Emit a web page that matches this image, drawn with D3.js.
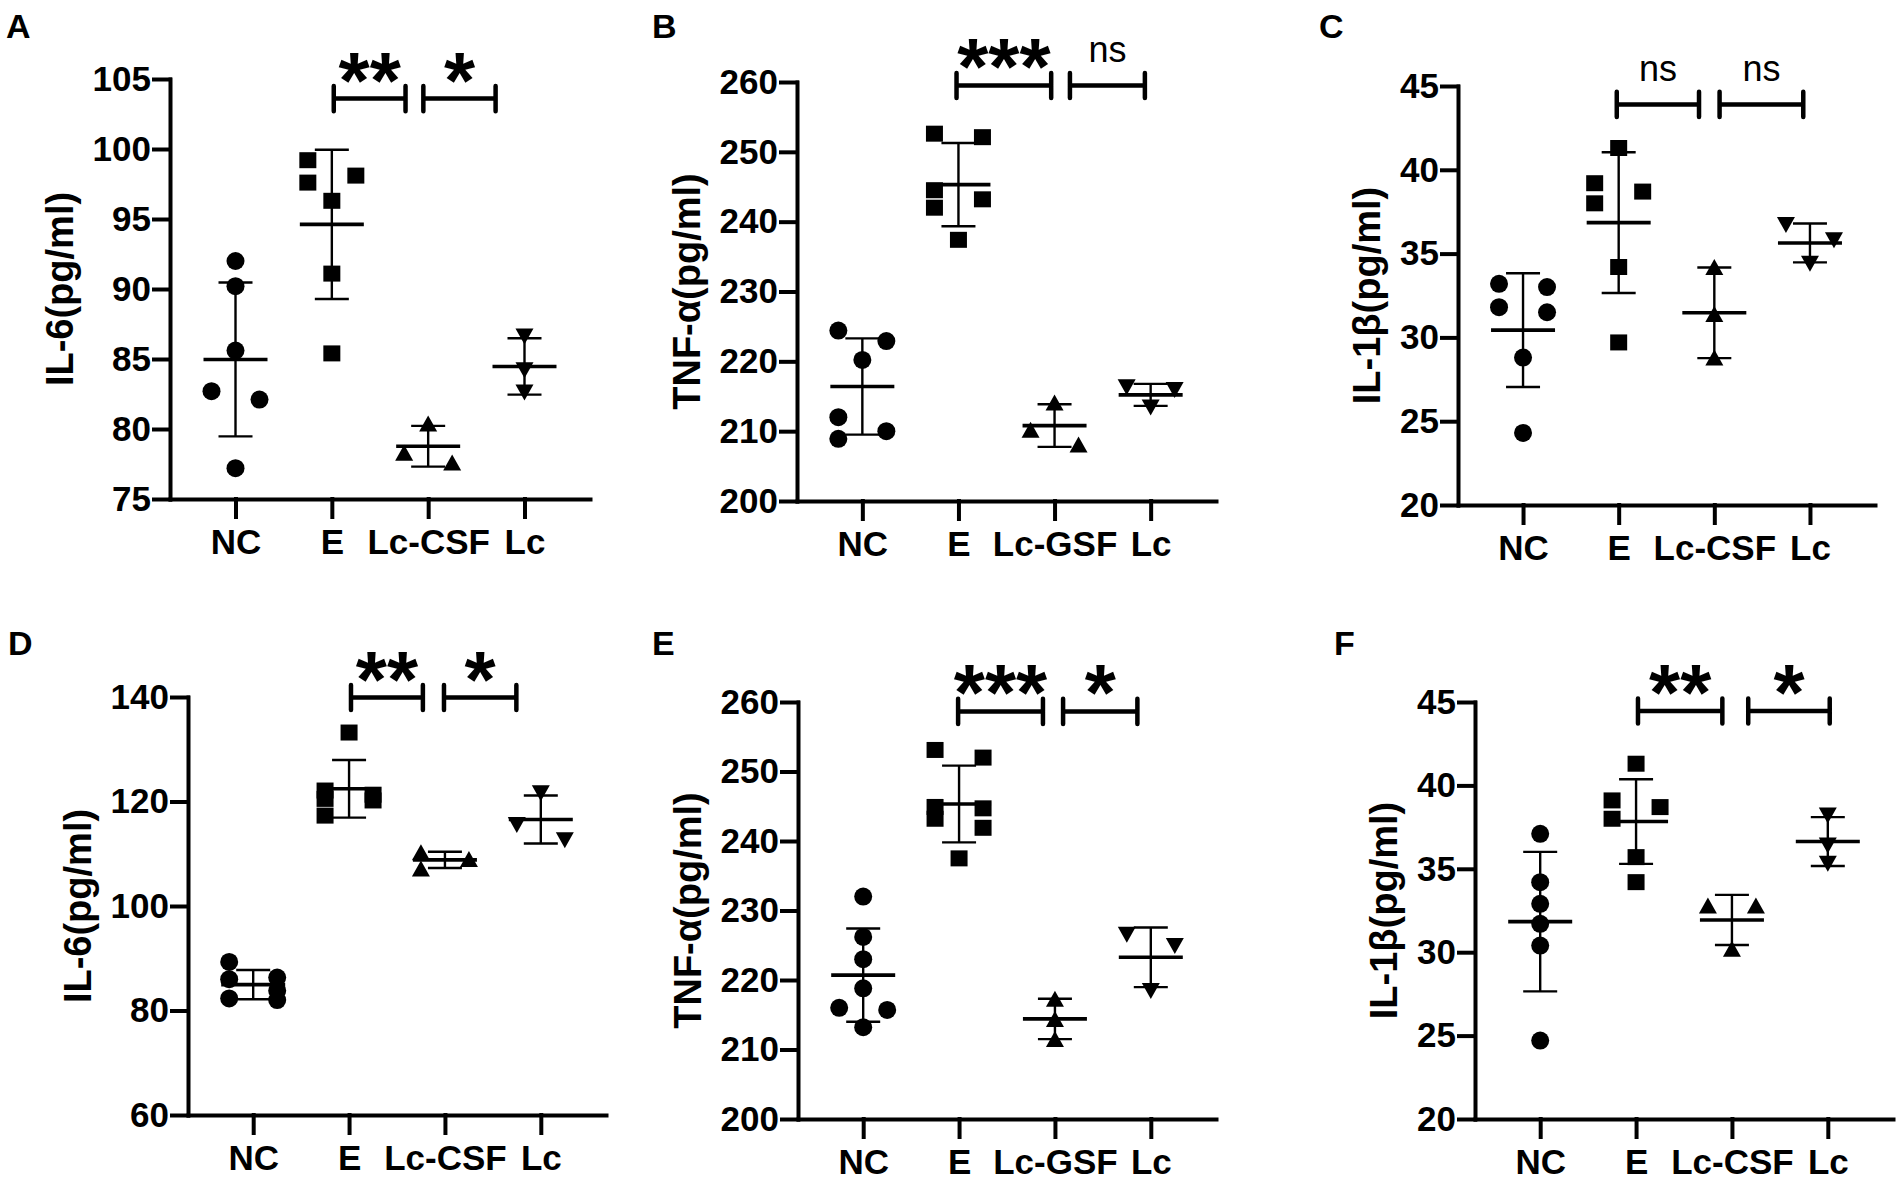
<!DOCTYPE html>
<html>
<head>
<meta charset="utf-8">
<script src="https://cdn.jsdelivr.net/npm/d3@7"></script>
<style>
  body { margin: 0; background: #fff; }
  text { font-family: "Liberation Sans", Arial, sans-serif; fill: #000; }
</style>
</head>
<body>
<div id="svg-container"></div>
<script>

// Group names on the x axis
const groupsCSF = ["NC", "E", "Lc-CSF", "Lc"];
const groupsGSF = ["NC", "E", "Lc-GSF", "Lc"];

// Individual values per group (NC, E, Lc-xSF, Lc)
const valuesA = [
    [92.0, 90.2, 85.6, 82.7, 82.1, 77.2],
    [99.2, 98.1, 97.6, 96.3, 91.1, 85.4],
    [80.4, 78.3, 77.6],
    [86.6, 84.2, 82.6]
];
const valuesB = [
    [224.4, 222.9, 220.2, 212.0, 210.0, 208.9],
    [252.6, 252.1, 244.5, 243.2, 242.0, 237.4],
    [214.1, 210.2, 208.1],
    [216.3, 215.9, 213.4]
];
const valuesC = [
    [33.2, 33.0, 31.8, 31.5, 28.8, 24.3],
    [41.3, 39.2, 38.7, 38.0, 34.2, 29.7],
    [34.2, 31.4, 28.8],
    [36.7, 35.8, 34.4]
];
const valuesD = [
    [89.3, 86.3, 86.0, 83.8, 82.3, 82.0],
    [133.2, 122.1, 121.3, 120.5, 120.2, 117.3],
    [110.3, 109.0, 107.2],
    [121.6, 115.5, 112.6]
];
const valuesE = [
    [232.0, 226.2, 223.0, 218.8, 216.0, 215.7, 213.2],
    [253.1, 252.0, 244.9, 244.7, 243.2, 241.9, 237.5],
    [217.3, 214.4, 211.5],
    [226.5, 224.9, 218.4]
];
const valuesF = [
    [37.1, 34.2, 32.9, 31.7, 30.4, 24.7],
    [41.3, 39.1, 38.7, 38.0, 35.7, 34.2],
    [32.8, 32.8, 30.2],
    [38.2, 36.4, 35.3]
];

// Y axis domains and tick steps
const domainIL6a = [75, 105], stepIL6a = 5;
const domainIL6b = [60, 140], stepIL6b = 20;
const domainTNF = [200, 260], stepTNF = 10;
const domainIL1 = [20, 45], stepIL1 = 5;

// Significance brackets: from/to in group index units, at = y value
const sigA = [{ text: "**", from: 1.02, to: 1.765, at: 103.6 }, { text: "*", from: 1.95, to: 2.70, at: 103.6 }];
const sigB = [{ text: "***", from: 0.98, to: 1.965, at: 259.5 }, { text: "ns", from: 2.16, to: 2.94, at: 259.5 }];
const sigC = [{ text: "ns", from: 0.98, to: 1.84, at: 43.9 }, { text: "ns", from: 2.055, to: 2.93, at: 43.9 }];
const sigD = [{ text: "**", from: 1.02, to: 1.77, at: 139.9 }, { text: "*", from: 1.99, to: 2.745, at: 139.9 }];
const sigE = [{ text: "***", from: 0.99, to: 1.875, at: 258.65 }, { text: "*", from: 2.085, to: 2.86, at: 258.65 }];
const sigF = [{ text: "**", from: 1.02, to: 1.90, at: 44.46 }, { text: "*", from: 2.17, to: 3.02, at: 44.46 }];

// Panel layout (axis frame in pixels) -- kept apart from the data
const panels = [
    { letter: "A", lx: 6, ly: 38, title: "IL-6(pg/ml)", groups: groupsCSF, values: valuesA,
      domain: domainIL6a, step: stepIL6a, sig: sigA, left: 170, right: 590, top: 79, bottom: 499 },
    { letter: "B", lx: 652, ly: 38, title: "TNF-\u03b1(pg/ml)", groups: groupsGSF, values: valuesB,
      domain: domainTNF, step: stepTNF, sig: sigB, left: 797, right: 1216, top: 82, bottom: 501 },
    { letter: "C", lx: 1319, ly: 38, title: "IL-1\u03b2(pg/ml)", groups: groupsCSF, values: valuesC,
      domain: domainIL1, step: stepIL1, sig: sigC, left: 1458, right: 1875, top: 86, bottom: 505 },
    { letter: "D", lx: 8, ly: 655, title: "IL-6(pg/ml)", groups: groupsCSF, values: valuesD,
      domain: domainIL6b, step: stepIL6b, sig: sigD, left: 188, right: 606, top: 697, bottom: 1115 },
    { letter: "E", lx: 652, ly: 655, title: "TNF-\u03b1(pg/ml)", groups: groupsGSF, values: valuesE,
      domain: domainTNF, step: stepTNF, sig: sigE, left: 798, right: 1216, top: 702, bottom: 1119 },
    { letter: "F", lx: 1334, ly: 655, title: "IL-1\u03b2(pg/ml)", groups: groupsCSF, values: valuesF,
      domain: domainIL1, step: stepIL1, sig: sigF, left: 1475, right: 1893, top: 702, bottom: 1119 }
];

const width = 1901, height = 1181;

const svg = d3.select("#svg-container").append("svg")
        .attr("width", width)
        .attr("height", height)
        .style("display", "block");

panels.forEach(draw_panel);

function draw_panel(p) {
    const g = svg.append("g");

    const x = d3.scalePoint(p.groups, [p.left, p.right]).padding(0.68);
    const xi = d3.scaleLinear([0, p.groups.length - 1],
                              [x(p.groups[0]), x(p.groups[p.groups.length - 1])]);
    const y = d3.scaleLinear(p.domain, [p.bottom, p.top]);

    // Panel letter
    g.append("text")
        .attr("x", p.lx).attr("y", p.ly)
        .attr("font-size", 34).attr("font-weight", "bold")
        .text(p.letter);

    // Y axis
    const yAxis = g.append("g")
        .attr("transform", `translate(${p.left},0)`)
        .call(d3.axisLeft(y)
              .tickValues(d3.range(p.domain[0], p.domain[1] + p.step / 2, p.step))
              .tickSize(16).tickSizeOuter(0).tickPadding(3));

    // X axis
    const xAxis = g.append("g")
        .attr("transform", `translate(0,${p.bottom})`)
        .call(d3.axisBottom(x).tickSize(18).tickSizeOuter(0).tickPadding(12));

    [yAxis, xAxis].forEach(function(a) {
        a.selectAll("path, line").attr("stroke", "#000").attr("stroke-width", 4)
            .attr("stroke-linecap", "square");
        a.selectAll("text").attr("font-size", 35).attr("font-weight", "bold")
            .attr("fill", "#000").attr("font-family", "Liberation Sans, Arial, sans-serif");
    });

    // Y axis title placed left of the tick labels
    const bb = yAxis.node().getBBox();
    g.append("text")
        .attr("transform", `translate(${p.left + bb.x - 20},${(p.top + p.bottom) / 2}) rotate(-90)`)
        .attr("text-anchor", "middle")
        .attr("font-size", 38).attr("font-weight", "bold")
        .text(p.title);

    // Points, mean and SD for every group
    p.values.forEach(function(vals, gi) {
        const cx = x(p.groups[gi]);
        const offs = dodge(vals, y, 17, 24);
        const m = d3.mean(vals), sd = d3.deviation(vals);

        g.append("g").selectAll("path")
            .data(vals)
            .join("path")
            .attr("transform", function(d, i) { return `translate(${cx + offs[i]},${y(d)})`; })
            .attr("d", marker_path(gi))
            .attr("fill", "#000");

        const bars = g.append("g").attr("stroke", "#000").attr("fill", "none");
        bars.append("line")
            .attr("x1", cx).attr("x2", cx)
            .attr("y1", y(m + sd)).attr("y2", y(m - sd))
            .attr("stroke-width", 2.4);
        [m + sd, m - sd].forEach(function(v) {
            bars.append("line")
                .attr("x1", cx - 17).attr("x2", cx + 17)
                .attr("y1", y(v)).attr("y2", y(v))
                .attr("stroke-width", 2.4);
        });
        bars.append("line")
            .attr("x1", cx - 32).attr("x2", cx + 32)
            .attr("y1", y(m)).attr("y2", y(m))
            .attr("stroke-width", 3.6);
    });

    // Significance brackets
    const sig = g.append("g").selectAll("g")
        .data(p.sig)
        .join("g");

    sig.append("path")
        .attr("fill", "none").attr("stroke", "#000")
        .attr("stroke-width", 4.5).attr("stroke-linecap", "round")
        .attr("d", function(d) {
            const x1 = xi(d.from), x2 = xi(d.to), yy = y(d.at);
            return `M${x1},${yy - 12.6}V${yy + 12.6}M${x1},${yy}H${x2}M${x2},${yy - 12.6}V${yy + 12.6}`;
        });

    sig.append("text")
        .attr("x", function(d) { return (xi(d.from) + xi(d.to)) / 2; })
        .attr("y", function(d) { return d.text === "ns" ? y(d.at) - 23 : y(d.at) + 9; })
        .attr("text-anchor", "middle")
        .attr("font-size", function(d) { return d.text === "ns" ? 36 : 80; })
        .attr("font-weight", function(d) { return d.text === "ns" ? "normal" : "bold"; })
        .text(function(d) { return d.text; });
}

// Spread points of similar value sideways, alternating left / right
function dodge(vals, y, thr, off) {
    const order = d3.range(vals.length).sort(function(a, b) { return vals[b] - vals[a]; });
    const out = vals.map(function() { return 0; });
    let cluster = [order[0]];

    function flush() {
        if (cluster.length > 1)
            cluster.forEach(function(k, j) { out[k] = (j % 2 === 0) ? -off : off; });
    }

    for (let i = 1; i < order.length; i++) {
        const prev = order[i - 1], cur = order[i];
        if (Math.abs(y(vals[prev]) - y(vals[cur])) < thr) {
            cluster.push(cur);
        } else {
            flush();
            cluster = [cur];
        }
    }
    flush();
    return out;
}

// Marker per group: circle, square, up triangle, down triangle
function marker_path(gi) {
    switch (gi) {
    case 0:
        return "M9,0A9,9 0 1,1 -9,0A9,9 0 1,1 9,0Z";
    case 1:
        return "M-8.5,-8H8.5V8H-8.5Z";
    case 2:
        return "M0,-8L9,8L-9,8Z";
    default:
        return "M0,8L9,-8L-9,-8Z";
    }
}
</script>
</body>
</html>
